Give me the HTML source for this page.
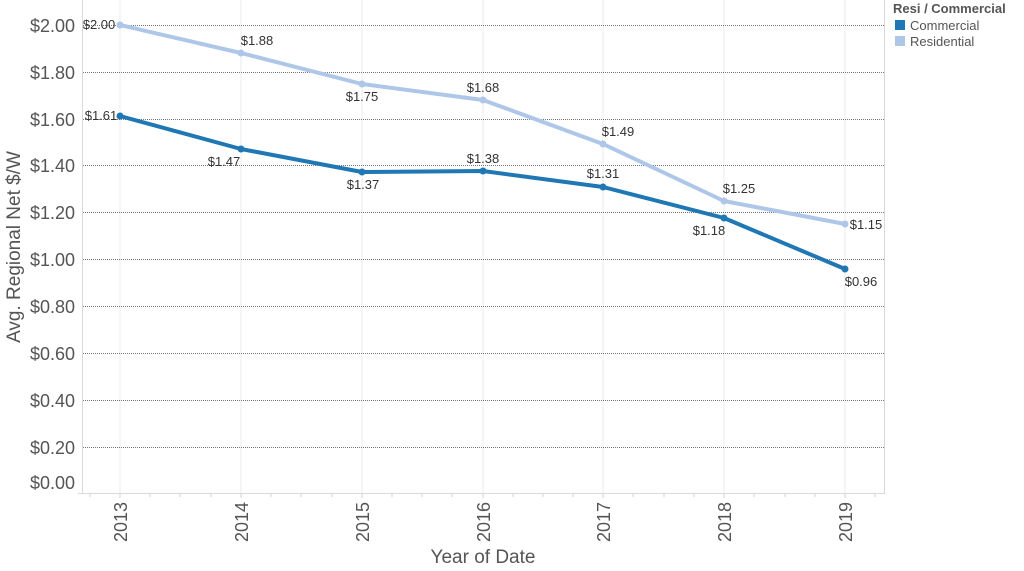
<!DOCTYPE html>
<html><head><meta charset="utf-8"><style>
body{margin:0;background:#fff;}
svg{display:block;font-family:"Liberation Sans",Arial,sans-serif;}
</style></head><body>
<svg width="1024" height="571" viewBox="0 0 1024 571">
<rect x="0" y="0" width="1024" height="571" fill="#fff"/>
<!-- vertical gridlines -->
<g stroke="#ebebeb" stroke-width="1">
<line x1="120" y1="0" x2="120" y2="493"/><line x1="241" y1="0" x2="241" y2="493"/>
<line x1="362" y1="0" x2="362" y2="493"/><line x1="483" y1="0" x2="483" y2="493"/>
<line x1="603" y1="0" x2="603" y2="493"/><line x1="724" y1="0" x2="724" y2="493"/>
<line x1="845" y1="0" x2="845" y2="493"/>
</g>
<!-- horizontal gridlines -->
<g stroke="#777" stroke-width="1" stroke-dasharray="1,1">
<line x1="83" y1="25.5" x2="884" y2="25.5"/><line x1="83" y1="72.5" x2="884" y2="72.5"/>
<line x1="83" y1="119.5" x2="884" y2="119.5"/><line x1="83" y1="165.5" x2="884" y2="165.5"/>
<line x1="83" y1="212.5" x2="884" y2="212.5"/><line x1="83" y1="259.5" x2="884" y2="259.5"/>
<line x1="83" y1="306.5" x2="884" y2="306.5"/><line x1="83" y1="353.5" x2="884" y2="353.5"/>
<line x1="83" y1="400.5" x2="884" y2="400.5"/><line x1="83" y1="447.5" x2="884" y2="447.5"/>
</g>
<g stroke="#d9d9d9" stroke-width="1" fill="none">
<line x1="82.5" y1="0" x2="82.5" y2="494"/>
<line x1="884.5" y1="0" x2="884.5" y2="494"/>
<line x1="78" y1="493.5" x2="884" y2="493.5"/>
</g>
<g stroke="#d0d0d0" stroke-width="1">
<line x1="90" y1="494" x2="90" y2="497"/><line x1="120" y1="494" x2="120" y2="498"/><line x1="150" y1="494" x2="150" y2="497"/><line x1="180" y1="494" x2="180" y2="497"/><line x1="211" y1="494" x2="211" y2="497"/><line x1="241" y1="494" x2="241" y2="498"/><line x1="271" y1="494" x2="271" y2="497"/><line x1="301" y1="494" x2="301" y2="497"/><line x1="332" y1="494" x2="332" y2="497"/><line x1="362" y1="494" x2="362" y2="498"/><line x1="392" y1="494" x2="392" y2="497"/><line x1="422" y1="494" x2="422" y2="497"/><line x1="452" y1="494" x2="452" y2="497"/><line x1="483" y1="494" x2="483" y2="498"/><line x1="513" y1="494" x2="513" y2="497"/><line x1="543" y1="494" x2="543" y2="497"/><line x1="573" y1="494" x2="573" y2="497"/><line x1="603" y1="494" x2="603" y2="498"/><line x1="633" y1="494" x2="633" y2="497"/><line x1="664" y1="494" x2="664" y2="497"/><line x1="694" y1="494" x2="694" y2="497"/><line x1="724" y1="494" x2="724" y2="498"/><line x1="754" y1="494" x2="754" y2="497"/><line x1="785" y1="494" x2="785" y2="497"/><line x1="815" y1="494" x2="815" y2="497"/><line x1="845" y1="494" x2="845" y2="498"/><line x1="875" y1="494" x2="875" y2="497"/>
</g>
<!-- y labels -->
<g font-size="18" fill="#555" text-anchor="end">
<text x="75" y="32">$2.00</text><text x="75" y="79">$1.80</text><text x="75" y="126">$1.60</text>
<text x="75" y="172">$1.40</text><text x="75" y="219">$1.20</text><text x="75" y="266">$1.00</text>
<text x="75" y="313">$0.80</text><text x="75" y="360">$0.60</text><text x="75" y="407">$0.40</text>
<text x="75" y="454">$0.20</text><text x="75" y="489">$0.00</text>
</g>
<text transform="translate(20,247) rotate(-90)" font-size="19" fill="#555" text-anchor="middle">Avg. Regional Net $/W</text>
<!-- x labels -->
<g font-size="18" fill="#555" text-anchor="middle">
<text transform="translate(127,522) rotate(-90)">2013</text>
<text transform="translate(248,522) rotate(-90)">2014</text>
<text transform="translate(369,522) rotate(-90)">2015</text>
<text transform="translate(490,522) rotate(-90)">2016</text>
<text transform="translate(610,522) rotate(-90)">2017</text>
<text transform="translate(731,522) rotate(-90)">2018</text>
<text transform="translate(852,522) rotate(-90)">2019</text>
</g>
<text x="483" y="563" font-size="19" fill="#555" text-anchor="middle">Year of Date</text>
<!-- residential -->
<polyline fill="none" stroke="#aec7e8" stroke-width="4" stroke-linejoin="round" points="120,25 241,53 362,84 483,100 603,144 724,201 845,224"/>
<g fill="#aec7e8"><circle cx="120" cy="25" r="3.5"/><circle cx="241" cy="53" r="3.5"/><circle cx="362" cy="84" r="3.5"/><circle cx="483" cy="100" r="3.5"/><circle cx="603" cy="144" r="3.5"/><circle cx="724" cy="201" r="3.5"/><circle cx="845" cy="224" r="3.5"/></g>
<!-- commercial -->
<polyline fill="none" stroke="#1f77b4" stroke-width="4" stroke-linejoin="round" points="120,116 241,149 362,172 483,171 603,187 724,218 845,269"/>
<g fill="#1f77b4"><circle cx="120" cy="116" r="3.5"/><circle cx="241" cy="149" r="3.5"/><circle cx="362" cy="172" r="3.5"/><circle cx="483" cy="171" r="3.5"/><circle cx="603" cy="187" r="3.5"/><circle cx="724" cy="218" r="3.5"/><circle cx="845" cy="269" r="3.5"/></g>
<!-- labels -->
<g font-size="13" fill="#333" text-anchor="middle">
<text x="99" y="29">$2.00</text><text x="257" y="45">$1.88</text><text x="362" y="101">$1.75</text>
<text x="483" y="92">$1.68</text><text x="618" y="136">$1.49</text><text x="739" y="193">$1.25</text>
<text x="866" y="229">$1.15</text>
<text x="101" y="120">$1.61</text><text x="224" y="166">$1.47</text><text x="363" y="189">$1.37</text>
<text x="483" y="163">$1.38</text><text x="603" y="178">$1.31</text><text x="709" y="235">$1.18</text>
<text x="861" y="286">$0.96</text>
</g>
<!-- legend -->
<text x="893" y="13" font-size="13" font-weight="bold" fill="#555">Resi / Commercial</text>
<rect x="895" y="20" width="10" height="10" fill="#1f77b4"/>
<text x="910" y="30" font-size="13" fill="#555">Commercial</text>
<rect x="895" y="36" width="10" height="10" fill="#aec7e8"/>
<text x="910" y="46" font-size="13" fill="#555">Residential</text>
</svg>
</body></html>
